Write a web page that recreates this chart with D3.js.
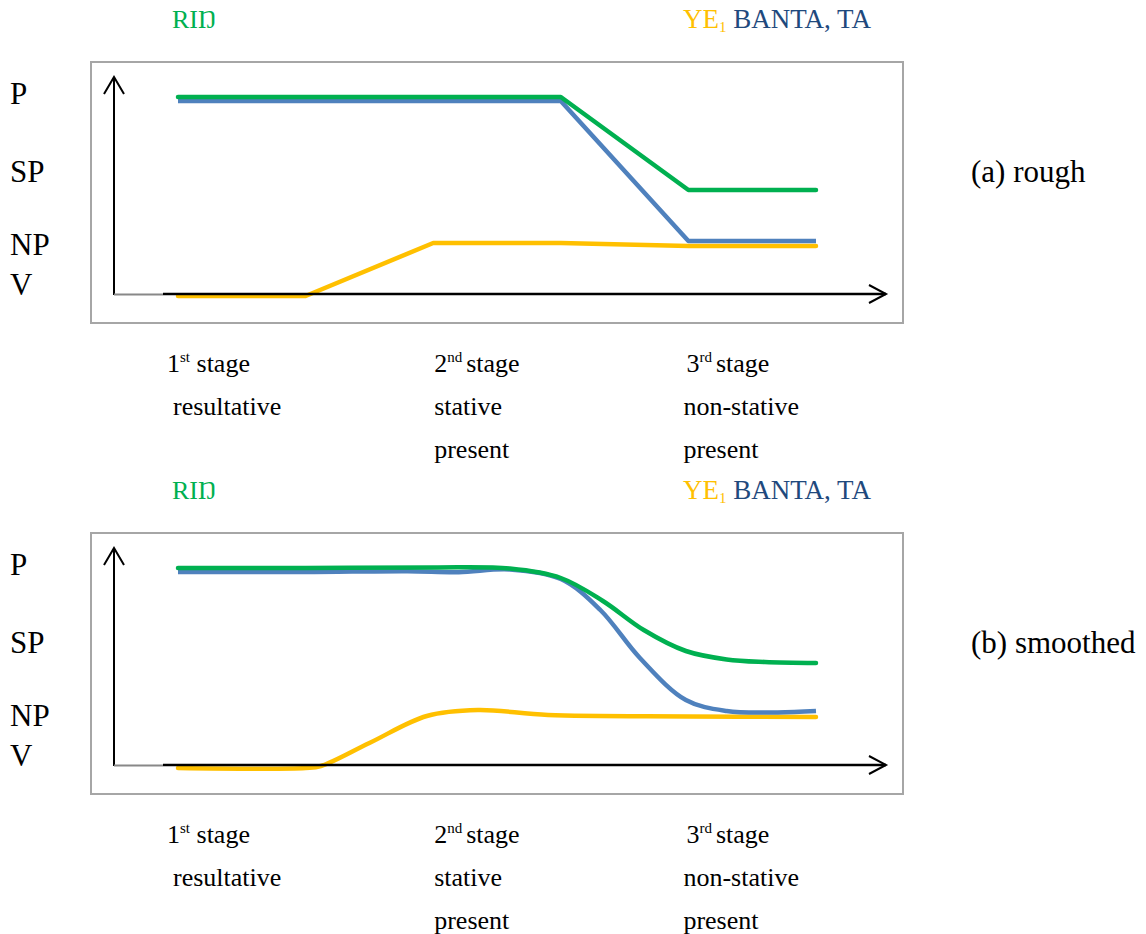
<!DOCTYPE html>
<html>
<head>
<meta charset="utf-8">
<script src="https://cdn.jsdelivr.net/npm/d3@7"></script>
<style>
  body { margin: 0; background: #fff; }
</style>
</head>
<body>
<svg width="1146" height="934"></svg>
<script>
// ---- data -------------------------------------------------------------
// x = stage position (0..5), y = relative level (V = 0 ... P = 100)
var roughGreen  = [[0, 99], [3, 99], [4, 52.5], [5, 52.5]];
var roughBlue   = [[0, 97], [3, 97], [4, 27], [5, 27]];
var roughYellow = [[0, -0.5], [1, -0.5], [2, 26], [3, 26], [4, 24.5], [5, 24.5]];

var smoothGreen  = [[0, 99], [1, 99], [2, 99.3], [2.6, 98.7], [3.0, 94], [3.33, 82.5], [3.65, 68], [3.98, 57.5], [4.3, 53.3], [4.6, 52], [5, 51.5]];
var smoothBlue   = [[0, 97], [1, 97], [1.8, 97.4], [2.2, 96.9], [2.6, 98.3], [3.0, 93.5], [3.31, 78], [3.62, 54], [3.98, 33], [4.3, 27.5], [4.7, 26.8], [5, 27.5]];
var smoothYellow = [[0, -1], [1.0, -1], [1.12, 0], [1.5, 11.5], [1.95, 25], [2.35, 28], [2.9, 25.5], [4, 24.8], [5, 24.5]];

var levelLabels = ["P", "SP", "NP", "V"];
var levelValues = [101, 62, 25.5, 5.5];

var stageNums = ["1", "2", "3"];
var stageSups = ["st", "nd", "rd"];
var stagePos = [0, 2, 4];
var stageDesc = [["resultative"], ["stative", "present"], ["non-stative", "present"]];

var panelNames = ["(a) rough", "(b) smoothed"];

var colors = { green: "#00B050", blue: "#4F81BD", yellow: "#FFC000", navy: "#1F497D" };
var serif = "'Liberation Serif', 'Times New Roman', 'DejaVu Serif', serif";

// ---- layout -----------------------------------------------------------
var svg = d3.select("svg").attr("font-family", serif);

var x = d3.scaleLinear().domain([0, 5]).range([178, 816]);
var y = d3.scaleLinear().domain([0, 100]).range([295, 95]);

var panels = [
  { dy: 0,   curve: d3.curveLinear,    green: roughGreen,  blue: roughBlue,  yellow: roughYellow,  name: panelNames[0] },
  { dy: 471, curve: d3.curveCatmullRom.alpha(0.5), green: smoothGreen, blue: smoothBlue, yellow: smoothYellow, name: panelNames[1] }
];

panels.forEach(function (p) {
  var g = svg.append("g").attr("transform", "translate(0," + p.dy + ")");

  // header ("legend")
  g.append("text").attr("x", 172).attr("y", 28).attr("font-size", 26)
    .attr("font-family", serif)
    .attr("fill", colors.green).text("RI\u014A");
  var h = g.append("text").attr("x", 683).attr("y", 28).attr("font-size", 27)
    .attr("font-family", serif);
  h.append("tspan").attr("fill", colors.yellow).text("YE");
  h.append("tspan").attr("fill", colors.yellow).attr("font-size", 15).attr("dy", 4).text("1");
  h.append("tspan").attr("fill", colors.navy).attr("dy", -4).text(" BANTA, TA");

  // frame
  g.append("rect")
    .attr("x", 91).attr("y", 62).attr("width", 812).attr("height", 261)
    .attr("fill", "none").attr("stroke", "#A6A6A6").attr("stroke-width", 2);

  // level labels
  g.selectAll(".lvl").data(levelLabels).enter().append("text")
    .attr("class", "lvl")
    .attr("x", 10)
    .attr("y", function (d, i) { return y(levelValues[i]); })
    .attr("dy", "0.34em")
    .attr("font-size", 31)
    .attr("font-family", serif)
    .text(function (d) { return d; });

  // panel name
  g.append("text").attr("x", 971).attr("y", y(62)).attr("dy", "0.34em")
    .attr("font-size", 31).attr("font-family", serif).text(p.name);

  var line = d3.line()
    .x(function (d) { return x(d[0]); })
    .y(function (d) { return y(d[1]); })
    .curve(p.curve);

  // axes
  var y0 = y(0) - 1;
  g.append("line").attr("x1", 114).attr("x2", 114).attr("y1", y0 + 1).attr("y2", 77)
    .attr("stroke", "#000").attr("stroke-width", 2);
  g.append("path").attr("d", "M104,94L114,77L124,94")
    .attr("fill", "none").attr("stroke", "#000").attr("stroke-width", 2);
  g.append("line").attr("x1", 114).attr("x2", 163).attr("y1", y0 + 0.5).attr("y2", y0 + 0.5)
    .attr("stroke", "#888").attr("stroke-width", 2);

  g.append("path").datum(p.yellow)
    .attr("fill", "none").attr("stroke", colors.yellow).attr("stroke-width", 4.5)
    .attr("stroke-linecap", "round").attr("stroke-linejoin", "round").attr("d", line);

  g.append("line").attr("x1", 163).attr("x2", 886).attr("y1", y0).attr("y2", y0)
    .attr("stroke", "#000").attr("stroke-width", 2.5);
  g.append("path").attr("d", "M869," + (y0 - 9) + "L886," + y0 + "L869," + (y0 + 9))
    .attr("fill", "none").attr("stroke", "#000").attr("stroke-width", 2);

  g.append("path").datum(p.blue)
    .attr("fill", "none").attr("stroke", colors.blue).attr("stroke-width", 4.5)
    .attr("stroke-linejoin", "round").attr("d", line);
  g.append("path").datum(p.green)
    .attr("fill", "none").attr("stroke", colors.green).attr("stroke-width", 4.5)
    .attr("stroke-linecap", "round").attr("stroke-linejoin", "round").attr("d", line);

  // stage labels
  var offs = [-11, 1, -2];
  stagePos.forEach(function (s, i) {
    var t = g.append("text").attr("x", x(s) + offs[i]).attr("y", 372)
      .attr("font-size", 26).attr("font-family", serif);
    t.append("tspan").text(stageNums[i]);
    t.append("tspan").attr("font-size", 15).attr("dy", -10).text(stageSups[i]);
    t.append("tspan").attr("dy", 10).attr("dx", i === 0 ? 0 : 4).text(i === 0 ? " stage" : "stage");
    stageDesc[i].forEach(function (w, j) {
      g.append("text").attr("x", x(s) + offs[i] + (i === 0 ? 6 : i === 2 ? -3 : 0))
        .attr("y", 415 + 43 * j).attr("font-size", 26).attr("font-family", serif).text(w);
    });
  });
});
</script>
</body>
</html>
